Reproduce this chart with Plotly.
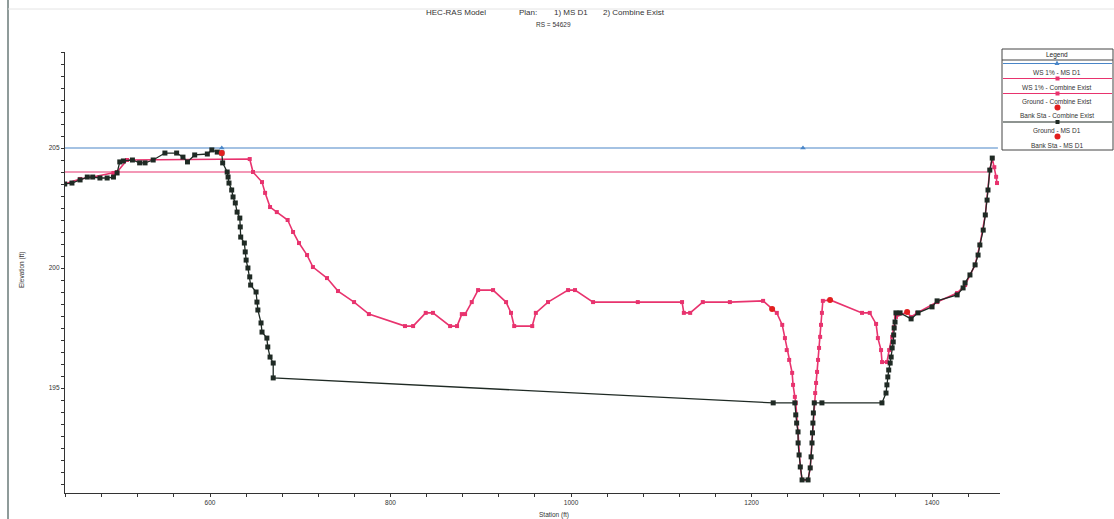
import plotly.graph_objects as go

# ---------------- data (station ft, elevation ft) ----------------
ground_msd1_sta = [439, 447, 456, 464, 470, 478, 486, 493, 497, 500, 504, 514, 522, 528, 537, 550, 563, 570, 575, 583,
                   597, 602, 608, 613, 614, 619, 620, 621, 624, 625.5, 628, 630, 633, 633.5, 634, 638, 639, 640, 642,
                   644, 645, 651, 652, 653, 656.5, 657.6, 663, 664, 666.5, 670, 670,
                   1224, 1248, 1249, 1250, 1251.5, 1251.6, 1252.7, 1254, 1256, 1262.6, 1265, 1266, 1267, 1267.5, 1268,
                   1268.5, 1269.5, 1278, 1344.5, 1349, 1350, 1351, 1352, 1353.6, 1354.7, 1355.8, 1357, 1357.5, 1358,
                   1359, 1360, 1364.6, 1376.8, 1384.5, 1400, 1405.6, 1427.8, 1434.4, 1436.6, 1442, 1447.7, 1451, 1453,
                   1456.7, 1459, 1461, 1462, 1464, 1466.7]
ground_msd1_elev = [203.5, 203.54, 203.67, 203.79, 203.79, 203.75, 203.75, 203.79, 203.96, 204.42, 204.46, 204.5, 204.38,
                    204.38, 204.5, 204.79, 204.79, 204.62, 204.42, 204.71, 204.75, 204.92, 204.83, 204.79, 204.38, 204.0,
                    203.79, 203.54, 203.25, 202.96, 202.71, 202.33, 202.08, 201.71, 201.29, 201.04, 200.67, 200.33, 200.0,
                    199.63, 199.29, 199.0, 198.58, 198.25, 197.71, 197.33, 197.08, 196.71, 196.29, 196.04, 195.42,
                    194.38, 194.38, 193.88, 193.54, 193.17, 192.71, 192.21, 191.71, 191.17, 191.17, 191.67, 192.13,
                    192.71, 193.13, 193.54, 193.96, 194.38, 194.38, 194.38, 194.79, 195.13, 195.46, 195.75, 196.04,
                    196.29, 196.67, 196.92, 197.21, 197.5, 197.75, 198.13, 198.13, 197.88, 198.13, 198.38, 198.63,
                    198.88, 199.17, 199.38, 199.71, 200.13, 200.54, 200.96, 201.58, 202.21, 202.83, 203.25, 204.08,
                    204.58]

ground_comb_sta = [439, 456, 470, 493, 497, 508, 644, 647.6, 657.6, 661, 666.5, 674, 686, 692, 698.6, 707.5, 714, 729.6,
                   741.8, 759.6, 776, 816, 825, 839, 847, 866, 873.7, 879, 882.6, 890, 897, 913.6, 928, 933.5, 937,
                   957, 961, 974.5, 996.7, 1004.4, 1024.4, 1074, 1123, 1125, 1132, 1146, 1176, 1212.8, 1222.8, 1228,
                   1234, 1237, 1239, 1241.7, 1245, 1246, 1248, 1249, 1251.5, 1254, 1256, 1262.6, 1265, 1267.5, 1269.5,
                   1270.5, 1271.5, 1272.6, 1273.7, 1274.8, 1276, 1277, 1278, 1279, 1287, 1322.4, 1331, 1338, 1340,
                   1343.5, 1344.6, 1350, 1352.5, 1355.8, 1358, 1360, 1372.4, 1376.8, 1383.5, 1405.6, 1427.8, 1436.6,
                   1447.7, 1453, 1459, 1462, 1464, 1466.7, 1469, 1471, 1472]
ground_comb_elev = [203.5, 203.71, 203.79, 203.96, 204.0, 204.5, 204.54, 204.0, 203.58, 203.13, 202.54, 202.33, 202.0,
                    201.5, 201.04, 200.54, 200.04, 199.58, 199.04, 198.58, 198.08, 197.58, 197.58, 198.13, 198.13,
                    197.58, 197.58, 198.08, 198.08, 198.58, 199.08, 199.08, 198.58, 198.13, 197.58, 197.58, 198.13,
                    198.58, 199.08, 199.08, 198.58, 198.58, 198.58, 198.13, 198.13, 198.58, 198.58, 198.63, 198.29,
                    198.13, 197.63, 197.08, 196.58, 196.17, 195.63, 195.13, 194.63, 194.38, 193.17, 191.71, 191.17,
                    191.17, 191.67, 193.13, 194.38, 194.79, 195.21, 195.67, 196.17, 196.67, 197.13, 197.63, 198.13,
                    198.63, 198.67, 198.13, 198.13, 197.67, 197.08, 196.58, 196.08, 196.08, 196.58, 197.13, 197.54,
                    197.96, 198.17, 197.96, 198.13, 198.58, 198.96, 199.29, 200.13, 200.96, 202.21, 203.25, 204.08,
                    204.58, 204.2, 203.8, 203.54]

ws_msd1_sta = [439, 1473]
ws_msd1_elev = [205.0, 205.0]
ws_msd1_mark_sta = [613, 1257]
ws_comb_sta = [439, 1461]
ws_comb_elev = [204.0, 204.0]

bank_comb_sta = [1222.8, 1287]
bank_comb_elev = [198.29, 198.67]
bank_msd1_sta = [613, 1372.4]
bank_msd1_elev = [204.79, 198.17]

x_tick_vals = list(range(440, 1475, 40))
x_label_vals = [600, 800, 1000, 1200, 1400]
y_tick_vals = [191 + 0.5 * i for i in range(37)]
y_label_vals = [195, 200, 205]

legend_labels = ["WS 1% - MS D1", "WS 1% - Combine Exist", "Ground - Combine Exist",
                 "Bank Sta - Combine Exist", "Ground - MS D1", "Bank Sta - MS D1"]

# ---------------- styling ----------------
BLUE = "#4a86c8"
PINK = "#e8336e"
BLACK = "#1f2a24"
RED = "#e21f1f"
FONT = "Liberation Sans"

W, H = 1114, 519
L, R, T, B = 65, 1000, 52, 493


def px(xp):
    return (xp - L) / (R - L)


def py(yp):
    return (B - yp) / (B - T)


def text_at(xp, yp, txt, size=7, color="#333", angle=0):
    return dict(x=px(xp), y=py(yp), xref="paper", yref="paper", text=txt, showarrow=False,
                xanchor="center", yanchor="middle", textangle=angle,
                font=dict(family=FONT, size=size, color=color))


fig = go.Figure()

fig.add_trace(go.Scatter(x=ws_msd1_sta, y=ws_msd1_elev, mode="lines",
                         line=dict(color=BLUE, width=1.2), showlegend=False))
fig.add_trace(go.Scatter(x=ws_msd1_mark_sta, y=[ws_msd1_elev[0]] * len(ws_msd1_mark_sta), mode="markers",
                         marker=dict(color=BLUE, size=5, symbol="triangle-up"), showlegend=False))
fig.add_trace(go.Scatter(x=ws_comb_sta, y=ws_comb_elev, mode="lines",
                         line=dict(color=PINK, width=1.2), showlegend=False))
fig.add_trace(go.Scatter(x=ground_comb_sta, y=ground_comb_elev, mode="lines+markers",
                         line=dict(color=PINK, width=1.6),
                         marker=dict(color=PINK, size=4, symbol="square"), showlegend=False))
fig.add_trace(go.Scatter(x=ground_msd1_sta, y=ground_msd1_elev, mode="lines+markers",
                         line=dict(color=BLACK, width=1.3),
                         marker=dict(color=BLACK, size=5, symbol="square"), showlegend=False))
fig.add_trace(go.Scatter(x=bank_comb_sta, y=bank_comb_elev, mode="markers",
                         marker=dict(color=RED, size=6, symbol="circle"), showlegend=False))
fig.add_trace(go.Scatter(x=bank_msd1_sta, y=bank_msd1_elev, mode="markers",
                         marker=dict(color=RED, size=6, symbol="circle"), showlegend=False))

ann = []
shapes = []

# titles
for xp, txt in [(456, "HEC-RAS Model"), (528, "Plan:"), (571, "1) MS D1"), (634, "2) Combine Exist")]:
    ann.append(text_at(xp, 13, txt, size=8))
ann.append(text_at(553, 25, "RS = 54629", size=6.5))
ann.append(text_at(554, 515, "Station (ft)", size=6.5))
ann.append(text_at(22, 270, "Elevation (ft)", size=6.5, angle=-90))

# custom legend
lx0, lx1, ly0, ly1 = 1002, 1113, 49, 150
shapes.append(dict(type="rect", xref="paper", yref="paper", x0=px(lx0), x1=px(lx1), y0=py(ly0), y1=py(ly1),
                   line=dict(color="#444", width=1), fillcolor="white"))
shapes.append(dict(type="line", xref="paper", yref="paper", x0=px(lx0), x1=px(lx1), y0=py(60), y1=py(60),
                   line=dict(color="#444", width=1)))
ann.append(text_at(1057, 55, "Legend", size=6.5, color="#222"))
legend_kinds = [("tri", BLUE, 63.5, 72), ("line", PINK, 78.5, 87), ("line", PINK, 93.5, 101),
                ("dot", RED, 107.5, 115), ("line", BLACK, 122, 130), ("dot", RED, 136.5, 145)]
for (kind, col, sy, ty), txt in zip(legend_kinds, legend_labels):
    if kind in ("line", "tri"):
        shapes.append(dict(type="line", xref="paper", yref="paper", x0=px(lx0 + 1), x1=px(lx1 - 1),
                           y0=py(sy), y1=py(sy), line=dict(color=col, width=1.2)))
        if kind == "tri":
            shapes.append(dict(type="path", xref="paper", yref="paper",
                               path=f"M {px(1054.5)},{py(sy + 1.5)} L {px(1059.5)},{py(sy + 1.5)} "
                                    f"L {px(1057)},{py(sy - 3)} Z",
                               line=dict(width=0), fillcolor=col))
        else:
            shapes.append(dict(type="rect", xref="paper", yref="paper", x0=px(1055.5), x1=px(1059.5),
                               y0=py(sy - 2), y1=py(sy + 2), line=dict(width=0), fillcolor=col))
    else:
        shapes.append(dict(type="circle", xref="paper", yref="paper", x0=px(1054.5), x1=px(1060.5),
                           y0=py(sy - 3), y1=py(sy + 3), line=dict(width=0), fillcolor=col))
    ann.append(text_at(1057, ty, txt, size=6.5, color="#333"))

# scan border
shapes.append(dict(type="line", xref="paper", yref="paper", x0=px(8), x1=px(8), y0=py(0), y1=py(519),
                   line=dict(color="#6a7a78", width=1.5)))
shapes.append(dict(type="line", xref="paper", yref="paper", x0=px(8), x1=px(1114), y0=py(9), y1=py(9),
                   line=dict(color="#e4e4e4", width=1)))

fig.update_layout(
    width=W, height=H,
    margin=dict(l=L, r=W - R, t=T, b=H - B, autoexpand=False),
    paper_bgcolor="white", plot_bgcolor="white",
    annotations=ann, shapes=shapes, showlegend=False,
    font=dict(family=FONT, size=7, color="#333"),
)
fig.update_xaxes(range=[439.3, 1475.3], showgrid=False, zeroline=False, automargin=False,
                 showline=True, linecolor="#333", linewidth=1.2,
                 tickmode="array", tickvals=x_tick_vals,
                 ticktext=[str(v) if v in x_label_vals else "" for v in x_tick_vals],
                 ticks="outside", ticklen=3, tickcolor="#333", tickfont=dict(size=6.5))
fig.update_yaxes(range=[190.625, 209.0], showgrid=False, zeroline=False, automargin=False,
                 showline=True, linecolor="#333", linewidth=1.2,
                 tickmode="array", tickvals=y_tick_vals,
                 ticktext=[str(int(v)) if v in y_label_vals else "" for v in y_tick_vals],
                 ticks="outside", ticklen=3, tickcolor="#333", tickfont=dict(size=6.5))

fig.write_html("out.html", config={"displayModeBar": False})

# remove the default 8px page margin so the figure sits at the window's top-left corner
with open("out.html", "r", encoding="utf-8") as f:
    html = f.read()
html = html.replace("<head>", "<head><style>html,body{margin:0;padding:0;overflow:hidden;}</style>", 1)
with open("out.html", "w", encoding="utf-8") as f:
    f.write(html)
